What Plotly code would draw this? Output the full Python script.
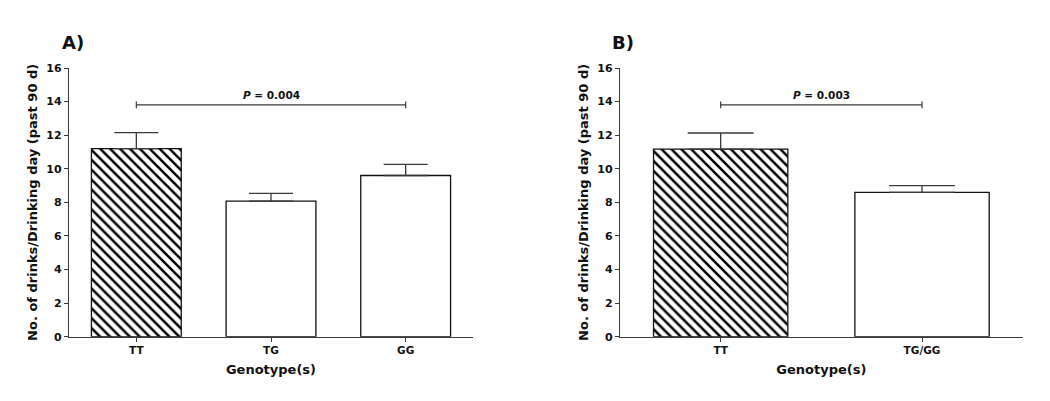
import plotly.graph_objects as go

# ---- data ----
cats_a = ["TT", "TG", "GG"]
means_a = [11.2, 8.07, 9.6]
sems_a = [0.95, 0.46, 0.66]
p_text_a = "0.004"

cats_b = ["TT", "TG/GG"]
means_b = [11.17, 8.59]
sems_b = [0.96, 0.40]
p_text_b = "0.003"

sig_y = 13.8
sig_tick = 0.2
y_ticks = [0, 2, 4, 6, 8, 10, 12, 14, 16]
y_title = "No. of drinks/Drinking day (past 90 d)"
x_title = "Genotype(s)"

FONT = "DejaVu Sans, Verdana, sans-serif"
LINE = "#3a3a3a"
OFF = 8  # default page body margin
W, H = 1050 - 2 * OFF, 401 - 2 * OFF

def px_x(p):
    return (p - OFF) / W

def px_y(p):
    return 1 - (p - OFF) / H

fig = go.Figure()

def add_panel(cats, means, sems, xa, ya, cap_w, p_text):
    shapes = ["\\"] + [""] * (len(cats) - 1)
    fig.add_trace(go.Bar(
        x=cats, y=means, xaxis=xa, yaxis=ya, width=0.667,
        marker=dict(color="white", line=dict(color="#111", width=1.3),
                    pattern=dict(shape=shapes, size=7, solidity=0.36,
                                 fgcolor="#000", fgopacity=1, bgcolor="white", fillmode="replace")),
        error_y=dict(type="data", array=sems, symmetric=False, arrayminus=[0] * len(cats),
                     color=LINE, thickness=1.3, width=cap_w),
        showlegend=False, hoverinfo="skip",
    ))
    first, last = cats[0], cats[-1]
    fig.add_trace(go.Scatter(
        x=[first, first, first, last, last, last],
        y=[sig_y - sig_tick, sig_y + sig_tick, sig_y, sig_y, sig_y + sig_tick, sig_y - sig_tick],
        xaxis=xa, yaxis=ya, mode="lines", line=dict(color=LINE, width=1.2),
        showlegend=False, hoverinfo="skip",
    ))
    mid = (len(cats) - 1) / 2
    fig.add_annotation(x=mid, y=sig_y, xref=xa, yref=ya, yanchor="bottom", yshift=2,
                       text=f"<i>P</i> = {p_text}", showarrow=False,
                       font=dict(family=FONT, size=10.5, color="#111", weight="bold"))

add_panel(cats_a, means_a, sems_a, "x", "y", 22, p_text_a)
add_panel(cats_b, means_b, sems_b, "x2", "y2", 33, p_text_b)

ydom = [px_y(336.7), px_y(68)]
axis_common = dict(showline=True, linecolor=LINE, linewidth=1.3, ticks="outside", automargin=False,
                   tickcolor=LINE, tickwidth=1.2, showgrid=False, zeroline=False, ticklen=4)
ytick_font = dict(family=FONT, size=11, color="#111", weight="bold")
xtick_font = dict(family=FONT, size=10.5, color="#111", weight="bold")
xt = dict(text=x_title, font=dict(family=FONT, size=13, color="#111", weight="bold"), standoff=9)
yt = dict(text=y_title, font=dict(family=FONT, size=13, color="#111", weight="bold"), standoff=5)

fig.update_layout(
    width=W, height=H, margin=dict(l=0, r=0, t=0, b=0, autoexpand=False),
    plot_bgcolor="white", paper_bgcolor="white",
    xaxis=dict(domain=[px_x(69), px_x(473)], range=[-0.5, 2.5], anchor="y",
               tickfont=xtick_font, title=xt, **axis_common),
    yaxis=dict(domain=ydom, range=[0, 16], tickvals=y_ticks, anchor="x",
               tickfont=ytick_font, title=yt, **axis_common),
    xaxis2=dict(domain=[px_x(620), px_x(1022.7)], range=[-0.5, 1.5], anchor="y2",
                tickfont=xtick_font, title=xt, **axis_common),
    yaxis2=dict(domain=ydom, range=[0, 16], tickvals=y_ticks, anchor="x2",
                tickfont=ytick_font, title=yt, **axis_common),
)

fig.add_annotation(x=px_x(60), y=px_y(42), xref="paper", yref="paper", xanchor="left", yanchor="middle",
                   text="A)", showarrow=False, font=dict(family=FONT, size=18, color="#111", weight="bold"))
fig.add_annotation(x=px_x(610), y=px_y(42), xref="paper", yref="paper", xanchor="left", yanchor="middle",
                   text="B)", showarrow=False, font=dict(family=FONT, size=18, color="#111", weight="bold"))

fig.write_html("out.html")
